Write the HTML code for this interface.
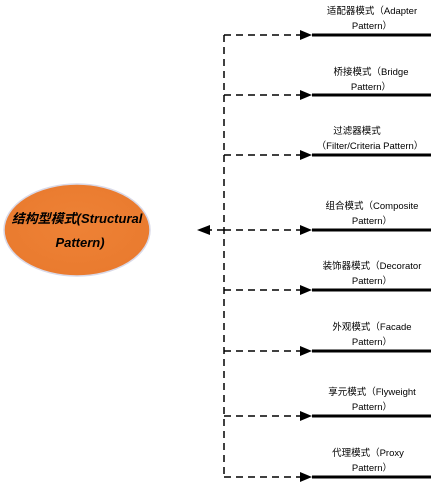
<!DOCTYPE html>
<html><head><meta charset="utf-8"><style>
html,body{margin:0;padding:0;background:#fff;}
svg text{font-family:"Liberation Sans","Noto Sans CJK SC",sans-serif;font-size:9.5px;fill:#000;}
</style></head><body>
<svg width="435" height="484" viewBox="0 0 435 484" xmlns="http://www.w3.org/2000/svg">
<defs>
<radialGradient id="g" cx="50%" cy="45%" r="60%"><stop offset="0" stop-color="#ee8236"/><stop offset="1" stop-color="#e97a2e"/></radialGradient>
</defs>
<ellipse cx="77" cy="230" rx="73" ry="46" fill="url(#g)" stroke="#d9d9e8" stroke-width="1.5"/>
<text x="77" y="223" text-anchor="middle" style="font-size:13px;font-weight:bold;font-style:italic">结构型模式(Structural</text>
<text x="80" y="247" text-anchor="middle" style="font-size:13px;font-weight:bold;font-style:italic">Pattern)</text>
<g stroke="#000" stroke-width="1.5" stroke-dasharray="7,5" fill="none">
<line x1="224" y1="35" x2="224" y2="477"/>
<line x1="224" y1="35" x2="302" y2="35"/>
<line x1="224" y1="95" x2="302" y2="95"/>
<line x1="224" y1="155" x2="302" y2="155"/>
<line x1="224" y1="230" x2="302" y2="230"/>
<line x1="224" y1="290" x2="302" y2="290"/>
<line x1="224" y1="351" x2="302" y2="351"/>
<line x1="224" y1="416" x2="302" y2="416"/>
<line x1="224" y1="477" x2="302" y2="477"/>
<line x1="224" y1="230" x2="208" y2="230"/>
</g>
<g fill="#000">
<polygon points="300,30 312,35 300,40"/>
<polygon points="300,90 312,95 300,100"/>
<polygon points="300,150 312,155 300,160"/>
<polygon points="300,225 312,230 300,235"/>
<polygon points="300,285 312,290 300,295"/>
<polygon points="300,346 312,351 300,356"/>
<polygon points="300,411 312,416 300,421"/>
<polygon points="300,472 312,477 300,482"/>
<polygon points="210,225 197,230 210,235"/>
</g>
<g fill="#000">
<rect x="312" y="33.5" width="119" height="3"/>
<rect x="312" y="93.5" width="119" height="3"/>
<rect x="312" y="153.5" width="119" height="3"/>
<rect x="312" y="228.5" width="119" height="3"/>
<rect x="312" y="288.5" width="119" height="3"/>
<rect x="312" y="349.5" width="119" height="3"/>
<rect x="312" y="414.5" width="119" height="3"/>
<rect x="312" y="475.5" width="119" height="3"/>
</g>
<g text-anchor="middle">
<text x="372" y="14">适配器模式（Adapter</text><text x="372" y="29">Pattern）</text>
<text x="371" y="75">桥接模式（Bridge</text><text x="371" y="90">Pattern）</text>
<text x="357" y="134">过滤器模式</text><text x="370" y="149">（Filter/Criteria Pattern）</text>
<text x="372" y="209">组合模式（Composite</text><text x="372" y="224">Pattern）</text>
<text x="372" y="269">装饰器模式（Decorator</text><text x="372" y="284">Pattern）</text>
<text x="372" y="330">外观模式（Facade</text><text x="372" y="345">Pattern）</text>
<text x="372" y="395">享元模式（Flyweight</text><text x="372" y="410">Pattern）</text>
<text x="368" y="456">代理模式（Proxy</text><text x="372" y="471">Pattern）</text>
</g>
</svg>
</body></html>
